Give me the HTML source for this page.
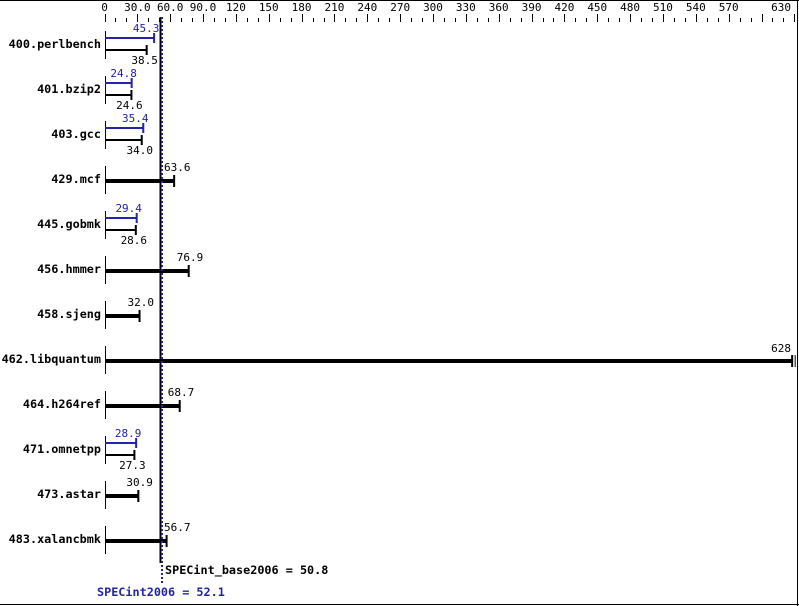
<!DOCTYPE html>
<html><head><meta charset="utf-8"><style>
body{margin:0;background:#fff}
svg{display:block}
text{font-family:"DejaVu Sans Mono","Liberation Mono",monospace;font-size:11px}
.b{font-weight:bold}
.r{font-size:11.8px}
</style></head><body>
<svg width="799" height="606" xmlns="http://www.w3.org/2000/svg">
<rect x="0" y="0" width="799" height="606" fill="#fff"/>
<line x1="0" y1="0.5" x2="799" y2="0.5" stroke="#000"/>
<line x1="797.5" y1="0" x2="797.5" y2="606" stroke="#000"/>
<line x1="0" y1="604.5" x2="799" y2="604.5" stroke="#000"/>
<g id="ticks" stroke="#000"></g>
<g id="lab"></g>
<g id="rows"></g>
<line x1="160.5" y1="17" x2="160.5" y2="563" stroke="#000" stroke-width="2"/>
<line x1="162" y1="17" x2="162" y2="583" stroke="#2222aa" stroke-width="2" stroke-dasharray="2,2"/>
<text x="165" y="574" class="b r">SPECint_base2006 = 50.8</text>
<text x="97" y="596" class="b r" fill="#2222aa">SPECint2006 = 52.1</text>
</svg>
<script>
const NS="http://www.w3.org/2000/svg";
const X=v=>104.5+v*1.095;
function el(p,t,a,txt){const e=document.createElementNS(NS,t);for(const k in a)e.setAttribute(k,a[k]);if(txt)e.textContent=txt;document.getElementById(p).appendChild(e);}
for(let v=0;v<=630;v+=10){const x=Math.round(X(v))+0.5;const big=v%30==0;el('ticks','line',{x1:x,x2:x,y1:big?14:18,y2:22});}
const lbls=[0,"30.0","60.0","90.0",120,150,180,210,240,270,300,330,360,390,420,450,480,510,540,570];
lbls.forEach((l,i)=>el('lab','text',{x:X(i*30),y:11,'text-anchor':'middle'},String(l)));
el('lab','text',{x:791,y:11,'text-anchor':'end'},"630");
const rows=[["400.perlbench",38.5,45.3],["401.bzip2",24.6,24.8],["403.gcc",34.0,35.4],["429.mcf",63.6],["445.gobmk",28.6,29.4],["456.hmmer",76.9],["458.sjeng",32.0],["462.libquantum",628],["464.h264ref",68.7],["471.omnetpp",27.3,28.9],["473.astar",30.9],["483.xalancbmk",56.7]];
rows.forEach((r,i)=>{const c=45+i*45;
el('rows','text',{x:101,y:c+3,'text-anchor':'end',class:'b r'},r[0]);
el('rows','line',{x1:105.5,x2:105.5,y1:c-14,y2:c+14,stroke:'#000'});
if(r.length==3){const bp=X(r[2]),bb=X(r[1]);
el('rows','line',{x1:105,x2:bp,y1:c-7,y2:c-7,stroke:'#2222aa','stroke-width':2});
el('rows','line',{x1:bp,x2:bp,y1:c-12,y2:c-2,stroke:'#2222aa','stroke-width':2});
el('rows','text',{x:bp-8,y:c-13,'text-anchor':'middle',fill:'#2222aa'},r[2].toFixed(1));
el('rows','line',{x1:105,x2:bb,y1:c+5,y2:c+5,stroke:'#000','stroke-width':2});
el('rows','line',{x1:bb,x2:bb,y1:c,y2:c+10,stroke:'#000','stroke-width':2});
el('rows','text',{x:bb-2,y:c+19,'text-anchor':'middle'},r[1].toFixed(1));
}else{const b=X(r[1]);
el('rows','line',{x1:105,x2:b,y1:c+1,y2:c+1,stroke:'#000','stroke-width':4});
el('rows','line',{x1:b,x2:b,y1:c-5,y2:c+7,stroke:'#000','stroke-width':2});
if(r[1]>600){el('rows','line',{x1:b+3,x2:b+3,y1:c-5,y2:c+7,stroke:'#000','stroke-width':1});el('rows','text',{x:791,y:c-8,'text-anchor':'end'},"628");}
else{let lx=b-12; if(r[1]>50&&lx<164)lx=164; el('rows','text',{x:lx,y:c-9},r[1].toFixed(1));}}
});
</script>
</body></html>
